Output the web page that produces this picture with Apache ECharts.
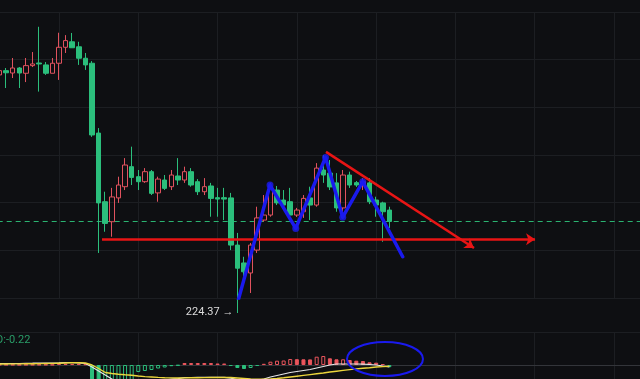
<!DOCTYPE html>
<html><head><meta charset="utf-8">
<script src="https://cdn.jsdelivr.net/npm/echarts@6/dist/echarts.min.js"></script>
<style>html,body{margin:0;padding:0;background:#0e0f12;}#c{width:640px;height:379px;}</style>
</head><body><div id="c"></div>
<script>
// candle index (x position on the bar scale)
const candleIdx = [3,4,5,6,7,8,9,10,11,12,13,14,15,16,17,18,19,20,21,22,23,24,25,26,27,28,29,30,31,32,33,34,35,36,37,38,39,40,41,42,43,44,45,46,47,48,49,50,51,52,53,54,55,56,57,58,59,60,61,62];
const openP  = [234.36,234.54,234.44,234.65,234.43,234.75,234.86,234.78,234.43,234.85,235.52,235.75,235.54,235.06,234.85,231.92,229.04,228.20,229.20,229.67,230.51,230.09,229.88,230.30,229.41,229.95,229.67,230.12,229.95,230.30,229.88,229.46,229.70,229.21,229.21,229.20,227.22,226.47,226.05,227.01,228.27,228.48,229.53,229.11,229.04,228.48,228.62,229.20,228.90,230.37,230.24,229.83,228.78,230.16,229.84,229.74,229.83,229.11,228.99,228.69];
const closeP = [234.54,234.45,234.65,234.44,234.75,234.82,234.82,234.43,234.85,235.52,235.80,235.50,235.06,234.78,231.84,228.99,228.13,229.24,229.74,230.58,230.06,229.88,230.30,229.39,229.99,229.60,230.16,229.95,230.30,229.74,229.46,229.67,229.18,229.15,229.15,227.22,226.25,226.10,227.22,228.36,228.48,229.62,228.99,228.90,228.48,228.69,229.18,228.90,230.45,230.16,229.66,228.78,230.16,229.74,229.74,229.88,229.04,228.90,228.62,228.21];
const lowP   = [234.23,233.81,234.23,233.81,234.06,234.69,233.66,234.36,234.43,234.15,235.28,235.49,234.78,234.57,231.76,226.89,227.78,227.57,228.99,229.53,229.74,229.53,229.83,229.32,229.04,229.53,229.53,229.74,229.83,229.67,229.32,229.32,228.41,228.41,228.27,227.01,224.37,225.55,225.21,226.89,228.20,228.41,228.90,228.83,228.36,228.40,228.36,228.27,228.83,229.83,229.53,228.62,228.62,229.62,229.66,229.53,228.94,228.41,227.36,227.94];
const highP  = [234.65,234.65,235.07,234.69,235.07,235.32,236.38,234.90,235.07,236.13,236.03,236.12,235.75,235.28,234.94,232.13,229.46,229.62,230.09,230.87,231.35,230.37,230.45,230.37,230.09,230.16,230.37,230.87,230.51,230.45,229.99,230.03,229.83,229.62,229.62,229.41,227.73,226.73,227.31,228.83,229.32,229.83,229.70,229.53,229.62,228.78,229.32,229.67,230.66,231.00,230.79,230.24,230.37,230.30,229.91,230.03,230.03,229.25,229.04,228.83];
// MACD pane
const difV  = [0.15,0.15,0.15,0.15,0.17,0.18,0.2,0.2,0.2,0.22,0.25,0.25,0.22,0.15,-0.2,-0.6,-1.0,-1.4,-1.8,-1.85,-1.8,-1.75,-1.7,-1.62,-1.55,-1.5,-1.42,-1.36,-1.27,-1.25,-1.24,-1.24,-1.24,-1.24,-1.24,-1.32,-1.45,-1.6,-1.65,-1.55,-1.4,-1.2,-1.05,-0.9,-0.75,-0.65,-0.55,-0.45,-0.3,-0.15,0,0.1,0.1,0.1,0.1,0.08,0.05,0,-0.1,-0.18];
const deaV  = [0.1,0.1,0.11,0.11,0.12,0.13,0.14,0.15,0.16,0.18,0.2,0.22,0.23,0.2,0.0,-0.35,-0.75,-0.85,-0.93,-0.98,-1.02,-1.1,-1.16,-1.2,-1.24,-1.27,-1.29,-1.3,-1.29,-1.28,-1.27,-1.26,-1.25,-1.25,-1.25,-1.25,-1.3,-1.35,-1.4,-1.43,-1.43,-1.4,-1.35,-1.28,-1.2,-1.12,-1.04,-0.96,-0.88,-0.8,-0.7,-0.62,-0.54,-0.46,-0.39,-0.33,-0.28,-0.2,-0.16,-0.13];
const histV = [0.03,0.03,0.03,0.02,0.03,0.03,0.04,0.04,0.03,0.10,0.12,0.12,0.10,0.08,-1.6,-2.4,-2.2,-2.0,-1.8,-1.6,-1.5,-0.7,-0.6,-0.5,-0.35,-0.25,-0.12,-0.06,0.2,0.2,0.2,0.2,0.2,0.15,0.15,-0.1,-0.3,-0.4,-0.3,-0.1,0.12,0.33,0.43,0.45,0.6,0.58,0.57,0.56,0.83,0.9,0.67,0.57,0.57,0.5,0.43,0.4,0.27,0.23,0.08,-0.22];
const lastClose = 228.21;
const lowText = '224.37 \u2192';
const macdText = 'D:-0.22';
// drawn annotations, in chart coordinates [bar index, price]
const supportLine = [[18.51,227.47],[84.05,227.47]];
const trendLine = [[52.41,231.13],[74.81,227.10]];
const zigzag = [[39.14,224.92],[43.94,229.74],[47.83,227.92],[52.34,230.90],[54.94,228.39],[57.97,229.88],[64.02,226.73]];
const ellipseC = [61.34, 0.6], ellipseR = [5.75, 1.7];

const UP = '#e0525e', DOWN = '#2bbf7c', GRIDC = '#1c1e22';
const X_MIN = 0, X_MAX = 108;
const candles = candleIdx.map((x,k)=>[x,openP[k],closeP[k],lowP[k],highP[k]]);
const histData = candleIdx.map((x,k)=>{
  const v = histV[k], prev = k>0 ? histV[k-1] : v;
  const c = v >= 0 ? '#e9555c' : '#2bbf7c';
  const hollow = v >= prev;
  return {value:[x,v], itemStyle:{color: hollow ? 'rgba(0,0,0,0)' : c, borderColor:c, borderWidth:1}};
});
const chart = echarts.init(document.getElementById('c'), null, {renderer:'canvas'});
const xCommon = {type:'value', min:X_MIN, max:X_MAX, interval:12, axisLabel:{show:false}, axisTick:{show:false}, splitLine:{show:true, lineStyle:{color:GRIDC, width:1}}};
chart.setOption({
  backgroundColor:'#0e0f12',
  animation:false,
  grid:[{left:-20.3, width:713.6, top:12, height:286, outerBoundsMode:'none', containLabel:false},
        {left:-20.3, width:713.6, top:332, height:99, outerBoundsMode:'none', containLabel:false}],
  xAxis:[Object.assign({gridIndex:0, axisLine:{show:false}}, xCommon),
         Object.assign({gridIndex:1, position:'top', axisLine:{show:true, lineStyle:{color:'#33353a', width:1}}}, xCommon)],
  yAxis:[{type:'value', gridIndex:0, min:225, max:237, interval:2, axisLabel:{show:false}, axisTick:{show:false}, axisLine:{show:false}, splitLine:{lineStyle:{color:GRIDC}}},
         {type:'value', gridIndex:1, min:-6.6, max:3.3, interval:3.3, axisLabel:{show:false}, axisTick:{show:false}, axisLine:{show:false}, splitLine:{lineStyle:{color:GRIDC}}}],
  series:[
    {type:'line', xAxisIndex:0, yAxisIndex:0, showSymbol:false, silent:true, z:1,
     data:[[X_MIN,lastClose],[X_MAX,lastClose]], lineStyle:{type:[5,4], color:'#2cb673', width:1}},
    {type:'candlestick', xAxisIndex:0, yAxisIndex:0, data:candles, encode:{x:0, y:[1,2,3,4]}, barWidth:5, clip:false, z:2,
     itemStyle:{color:'rgba(0,0,0,0)', color0:DOWN, borderColor:UP, borderColor0:DOWN, borderWidth:1}},
    {type:'lines', coordinateSystem:'cartesian2d', xAxisIndex:0, yAxisIndex:0, symbol:['none','arrow'], symbolSize:9, z:5,
     lineStyle:{color:'#e81515', width:2.5, opacity:1}, data:[{coords:supportLine},{coords:trendLine}]},
    {type:'lines', coordinateSystem:'cartesian2d', xAxisIndex:0, yAxisIndex:0, polyline:true, symbol:['none','arrow'], symbolSize:9, z:6,
     lineStyle:{color:'#1a1aee', width:3.5, opacity:1, cap:'round', join:'round'}, data:[{coords:zigzag}]},
    {type:'scatter', xAxisIndex:0, yAxisIndex:0, symbolSize:7, z:6, itemStyle:{color:'#1a1aee'}, data:zigzag.slice(1,6)},
    {type:'bar', xAxisIndex:1, yAxisIndex:1, barWidth:4, data:histData},
    {type:'line', xAxisIndex:1, yAxisIndex:1, showSymbol:false, data:candleIdx.map((x,k)=>[x,difV[k]]), lineStyle:{color:'#e6e6e6', width:1.2}, z:3},
    {type:'line', xAxisIndex:1, yAxisIndex:1, showSymbol:false, data:candleIdx.map((x,k)=>[x,deaV[k]]), lineStyle:{color:'#ecd63c', width:1.4}, z:4}
  ]
});
const c = chart.convertToPixel({gridIndex:1}, ellipseC);
const e = chart.convertToPixel({gridIndex:1}, [ellipseC[0]+ellipseR[0], ellipseC[1]+ellipseR[1]]);
const lowPt = chart.convertToPixel({gridIndex:0}, [candleIdx[36], lowP[36]]);
chart.setOption({graphic:[
  {type:'ellipse', shape:{cx:c[0], cy:c[1], rx:Math.abs(e[0]-c[0]), ry:Math.abs(c[1]-e[1])}, style:{fill:null, stroke:'#1a1aee', lineWidth:2}, z:10},
  {type:'text', x:lowPt[0]-4, y:lowPt[1]-1, style:{text:lowText, fill:'#dcdcdc', fontSize:11, fontFamily:'Roboto', align:'right', verticalAlign:'middle'}, z:10},
  {type:'text', left:-4, top:335, style:{text:macdText, fill:'#2a9d68', fontSize:11, fontFamily:'Roboto'}}
]});
</script></body></html>
